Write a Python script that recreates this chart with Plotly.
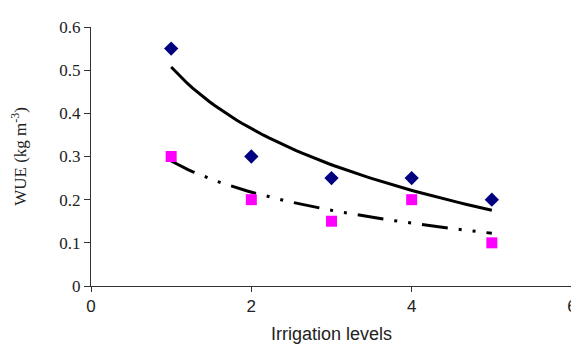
import numpy as np
import plotly.graph_objects as go

levels = [1, 2, 3, 4, 5]
wue_a = [0.55, 0.30, 0.25, 0.25, 0.20]
wue_b = [0.30, 0.20, 0.15, 0.20, 0.10]
x_ticks = [0, 2, 4, 6]
y_ticks = [0, 0.1, 0.2, 0.3, 0.4, 0.5, 0.6]

def log_fit(x, y):
    lx = np.log(np.array(x, dtype=float))
    b, a = np.polyfit(lx, np.array(y, dtype=float), 1)
    xs = np.linspace(min(x), max(x), 60)
    return xs, a + b * np.log(xs)

xa, ya = log_fit(levels, wue_a)
xb, yb = log_fit(levels, wue_b)

fig = go.Figure()
fig.add_trace(go.Scatter(x=xa, y=ya, mode="lines",
                         line=dict(color="black", width=3), showlegend=False))
fig.add_trace(go.Scatter(x=xb, y=yb, mode="lines",
                         line=dict(color="black", width=3, dash="26px,11px,3px,11px,3px,11px"),
                         showlegend=False))
fig.add_trace(go.Scatter(x=levels, y=wue_a, mode="markers",
                         marker=dict(symbol="diamond", size=11, color="#000080"),
                         showlegend=False))
fig.add_trace(go.Scatter(x=levels, y=wue_b, mode="markers",
                         marker=dict(symbol="square", size=11, color="#FF00FF"),
                         showlegend=False))

fig.update_layout(
    width=579, height=347,
    margin=dict(l=83, r=10, t=14, b=69),
    plot_bgcolor="white", paper_bgcolor="white",
    xaxis=dict(range=[0, 6], tickvals=x_ticks, ticktext=[str(v) for v in x_ticks],
               showgrid=False, zeroline=False, showline=True, linecolor="#333",
               linewidth=1, ticks="outside", ticklen=5, tickcolor="#333",
               tickfont=dict(family="Liberation Sans, Arial", size=17, color="#222"),
               title=dict(text="Irrigation levels", standoff=11,
                          font=dict(family="Liberation Sans, Arial", size=18, color="#222"))),
    yaxis=dict(range=[0, 0.6], tickvals=y_ticks, ticktext=["0", "0.1", "0.2", "0.3", "0.4", "0.5", "0.6"],
               showgrid=False, zeroline=False, showline=True, linecolor="#333",
               linewidth=1, ticks="outside", ticklen=6, tickcolor="#333",
               tickfont=dict(family="Liberation Serif, Times New Roman", size=17, color="#222"),
               title=dict(text="WUE (kg m<sup>-3</sup>)", standoff=28,
                          font=dict(family="Liberation Serif, Times New Roman", size=17, color="#222"))),
)

fig.write_html("out.html")
